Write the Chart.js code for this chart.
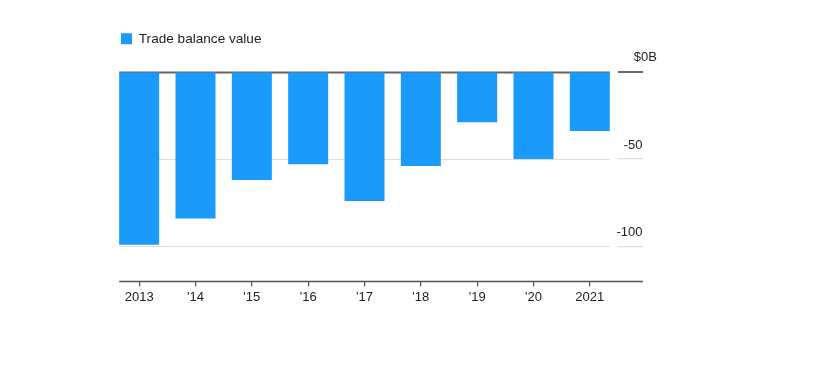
<!DOCTYPE html>
<html>
<head>
<meta charset="utf-8">
<script src="https://cdn.jsdelivr.net/npm/chart.js@4"></script>
<style>
  html, body { margin: 0; padding: 0; background: #fff; }
  #wrap { width: 822px; height: 389px; position: relative; }
</style>
</head>
<body>
<div id="wrap"><canvas id="c"></canvas></div>
<script>
const categories = ['2013', "'14", "'15", "'16", "'17", "'18", "'19", "'20", '2021'];
const tradeBalance = [-99, -84, -62, -53, -74, -54, -29, -50, -34];
const yTickValues = [-100, -50, 0];
const seriesLabel = 'Trade balance value';

const FONT = "'Liberation Sans', Arial, Helvetica, sans-serif";
const BAR_COLOR = '#1a9bfc';

const innerGrid = {
  id: 'innerGrid',
  beforeLayout(chart) {
    const lg = chart.legend;
    if (lg && !lg._patched) {
      const f = lg.fit;
      lg.fit = function () { f.call(this); this.height += 16; };
      lg._patched = true;
    }
  },
  beforeDatasetsDraw(chart) {
    const meta = chart.getDatasetMeta(0);
    if (!meta.data.length) return;
    const first = meta.data[0], last = meta.data[meta.data.length - 1];
    const left = first.x - first.width / 2;
    const right = last.x + last.width / 2;
    const y = chart.scales.y;
    const ctx = chart.ctx;
    ctx.save();
    y.ticks.forEach(t => {
      const py = Math.round(y.getPixelForValue(t.value)) + 0.5;
      ctx.beginPath();
      ctx.lineWidth = t.value === 0 ? 2 : 1.2;
      ctx.strokeStyle = t.value === 0 ? '#666' : '#dcdcdc';
      ctx.moveTo(left, py);
      ctx.lineTo(right, py);
      ctx.stroke();
    });
    ctx.restore();
  },
  afterDraw(chart) {
    const meta = chart.getDatasetMeta(0);
    const first = meta.data[0];
    const left = first.x - first.width / 2;
    const y = chart.scales.y;
    const ctx = chart.ctx;
    const py = chart.chartArea.bottom;
    ctx.save();
    ctx.beginPath();
    ctx.lineWidth = 1.5;
    ctx.strokeStyle = '#555';
    ctx.moveTo(left, py);
    ctx.lineTo(y.left + y.options.grid.tickLength, py);
    ctx.stroke();
    ctx.restore();
  }
};

new Chart(document.getElementById('c'), {
  type: 'bar',
  data: {
    labels: categories,
    datasets: [{
      label: seriesLabel,
      data: tradeBalance,
      backgroundColor: BAR_COLOR,
      borderWidth: 0,
      categoryPercentage: 0.71,
      barPercentage: 1.0
    }]
  },
  options: {
    responsive: true,
    maintainAspectRatio: false,
    animation: false,
    layout: { padding: { left: 111, right: 179, top: 22, bottom: 81 } },
    plugins: {
      legend: {
        display: true,
        position: 'top',
        align: 'start',
        labels: {
          boxWidth: 11,
          boxHeight: 11,
          padding: 10,
          color: '#222',
          font: { family: FONT, size: 13.6 }
        }
      },
      tooltip: { enabled: false }
    },
    scales: {
      x: {
        offset: true,
        border: { display: false },
        grid: {
          offset: false,
          drawOnChartArea: false,
          drawTicks: true,
          tickLength: 5,
          color: '#555',
          lineWidth: 1.2
        },
        ticks: {
          color: '#222',
          padding: 3,
          maxRotation: 0,
          autoSkip: false,
          font: { family: FONT, size: 13 }
        }
      },
      y: {
        position: 'right',
        min: -120,
        max: 0,
        border: { display: false },
        afterBuildTicks(scale) {
          scale.ticks = yTickValues.map(v => ({ value: v }));
        },
        afterFit(scale) {
          scale.width = 25;
        },
        grid: {
          drawOnChartArea: false,
          drawTicks: true,
          tickLength: 25,
          color: ctx => (ctx.tick && ctx.tick.value === 0 ? '#666' : '#dcdcdc'),
          lineWidth: ctx => (ctx.tick && ctx.tick.value === 0 ? 2 : 1.2)
        },
        ticks: {
          color: '#222',
          mirror: true,
          crossAlign: 'near',
          padding: 39,
          labelOffset: -14,
          font: { family: FONT, size: 13 },
          callback: v => (v === 0 ? '$0B' : String(v) + '    ')
        }
      }
    }
  },
  plugins: [innerGrid]
});
</script>
</body>
</html>
